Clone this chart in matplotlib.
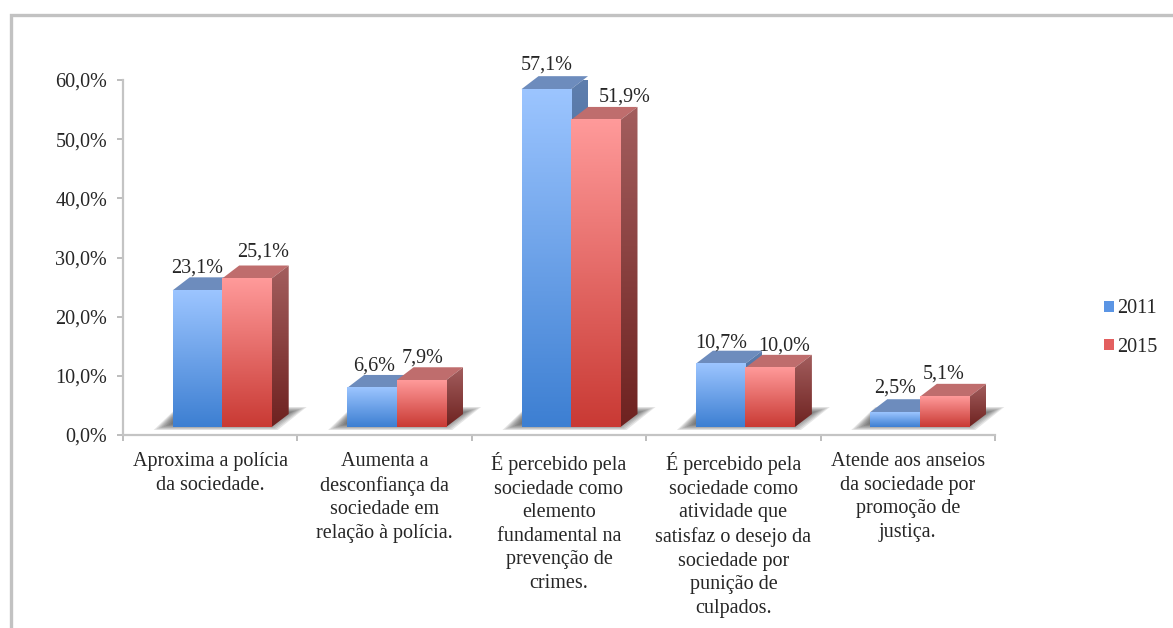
import matplotlib
matplotlib.use('Agg')
import matplotlib.pyplot as plt
import numpy as np
from matplotlib.colors import LinearSegmentedColormap
from matplotlib.lines import Line2D
from matplotlib.patches import Patch, Polygon

categorias = ['Aproxima a polícia\nda sociedade.',
              'Aumenta a\ndesconfiança da\nsociedade em\nrelação à polícia.',
              'É percebido pela\nsociedade como\nelemento\nfundamental na\nprevenção de\ncrimes.',
              'É percebido pela\nsociedade como\natividade que\nsatisfaz o desejo da\nsociedade por\npunição de\nculpados.',
              'Atende aos anseios\nda sociedade por\npromoção de\njustiça.']
v2011 = [23.1, 6.6, 57.1, 10.7, 2.5]
v2015 = [25.1, 7.9, 51.9, 10.0, 5.1]
y_ticks = [0, 10, 20, 30, 40, 50, 60]
y_labels = ['0,0%', '10,0%', '20,0%', '30,0%', '40,0%', '50,0%', '60,0%']

W, H = 1173, 628
plt.rcParams['font.family'] = ['Liberation Serif', 'DejaVu Serif']
plt.rcParams['font.size'] = 14.5
texto = '#262626'

fig = plt.figure(figsize=(W / 100, H / 100), dpi=100)
ax = fig.add_axes([123 / W, 1 - 435 / H, 872 / W, 355 / H])

# escala: 174.4 px por categoria, 5.92 px por ponto percentual
px_x = 1 / 174.4
px_y = 1 / 5.92
base = 8 * px_y
dx = 17 * px_x
dy = 13 * px_y
larg = 49.5 * px_x
desloc = 12 * px_x

estilos = {
    '2011': dict(frente=('#9cc5ff', '#3d7fd2'), lado=('#5f7fae', '#2d558c'), topo='#6d8cbd'),
    '2015': dict(frente=('#ff9a9a', '#c93a34'), lado=('#a35e5e', '#6e2220'), topo='#bf6d6d'),
}


def gradiente(ax, cores, ext, clip=None):
    cmap = LinearSegmentedColormap.from_list('g', cores)
    img = ax.imshow(np.linspace(0, 1, 128).reshape(-1, 1), cmap=cmap, extent=ext,
                    aspect='auto', zorder=3, clip_on=False, interpolation='bilinear')
    if clip is not None:
        img.set_clip_path(clip)
        img.set_clip_on(True)
    return img


def sombra(ax, x0, x1):
    # camadas para imitar o desfoque da sombra no chão
    for k in range(8):
        m = (7 - k) * 1.6
        ax.add_patch(Polygon([(x0 + (-19 + m * 1.5) * px_x, base + (-3 + m * 0.5) * px_y),
                              (x1 + (6 - m) * px_x, base + (-3 + m * 0.5) * px_y),
                              (x1 + (35 - m * 1.5) * px_x, base + (20 - m * 0.5) * px_y),
                              (x0 + 5 * px_x, base + (20 - m * 0.5) * px_y)],
                             fc='#3c3c3c', ec='none', alpha=0.13, zorder=2, clip_on=False))


def barra(ax, x0, val, st):
    x1 = x0 + larg
    y1 = base + val
    # topo
    ax.add_patch(Polygon([(x0, y1), (x1, y1), (x1 + dx, y1 + dy), (x0 + dx, y1 + dy)],
                         fc=st['topo'], ec='none', zorder=3, clip_on=False))
    # lado
    lado = Polygon([(x1, base), (x1 + dx, base + dy), (x1 + dx, y1 + dy), (x1, y1)],
                   fc='none', ec='none', transform=ax.transData)
    ax.add_patch(lado)
    gradiente(ax, st['lado'], [x1, x1 + dx, base, y1 + dy], clip=lado)
    # frente
    gradiente(ax, st['frente'], [x0, x1, base, y1])


for i in range(len(categorias)):
    c = i + 0.5 + desloc
    sombra(ax, c - larg, c + larg)
    barra(ax, c - larg, v2011[i], estilos['2011'])
    barra(ax, c, v2015[i], estilos['2015'])

# rótulos de valor
nudge_2011 = [0, 2, 1, 1, 0]
nudge_2015 = [16, 1, 29, 14, -1]
alt_2011 = [22, 22, 24, 21, 24]
alt_2015 = [26, 22, 23, 22, 23]
for i in range(len(categorias)):
    c = i + 0.5 + desloc
    ax.text(c - larg / 2 + nudge_2011[i] * px_x, base + v2011[i] + alt_2011[i] * px_y,
            f'{v2011[i]:.1f}%'.replace('.', ','), ha='center', va='center',
            color=texto, zorder=5, clip_on=False)
    ax.text(c + larg / 2 + nudge_2015[i] * px_x, base + v2015[i] + alt_2015[i] * px_y,
            f'{v2015[i]:.1f}%'.replace('.', ','), ha='center', va='center',
            color=texto, zorder=5, clip_on=False)

# rótulos das categorias
for i, nome in enumerate(categorias):
    ax.text(i + 0.5, -17 * px_y, nome, ha='center', va='top', color=texto, linespacing=1.33,
            clip_on=False)

ax.set_xlim(0, 5)
ax.set_ylim(0, 60)
ax.set_xticks(range(6))
ax.set_xticklabels([])
ax.set_yticks(y_ticks)
ax.set_yticklabels(y_labels, color=texto)
ax.tick_params(axis='both', length=4, width=1.4, color='#bdbdbd', pad=7.5)
for lado_ax in ['top', 'right']:
    ax.spines[lado_ax].set_visible(False)
for lado_ax in ['left', 'bottom']:
    ax.spines[lado_ax].set_color('#c4c4c4')
    ax.spines[lado_ax].set_linewidth(1.6)

# legenda
ax.legend(handles=[Patch(fc='#5b95e4', label='2011'), Patch(fc='#e35f5f', label='2015')],
          loc='center left', bbox_to_anchor=(1086 / W, 1 - 328 / H),
          bbox_transform=fig.transFigure, frameon=False, handlelength=0.5, handleheight=0.5,
          handletextpad=0.15, labelspacing=0.95, labelcolor=texto)

# moldura cinza
fig.add_artist(Line2D([11 / W, 11 / W, 1], [0, 1 - 15 / H, 1 - 15 / H], color='#c2c2c2', lw=2.4,
                      solid_joinstyle='miter'))

fig.savefig('out.png', dpi=100)
